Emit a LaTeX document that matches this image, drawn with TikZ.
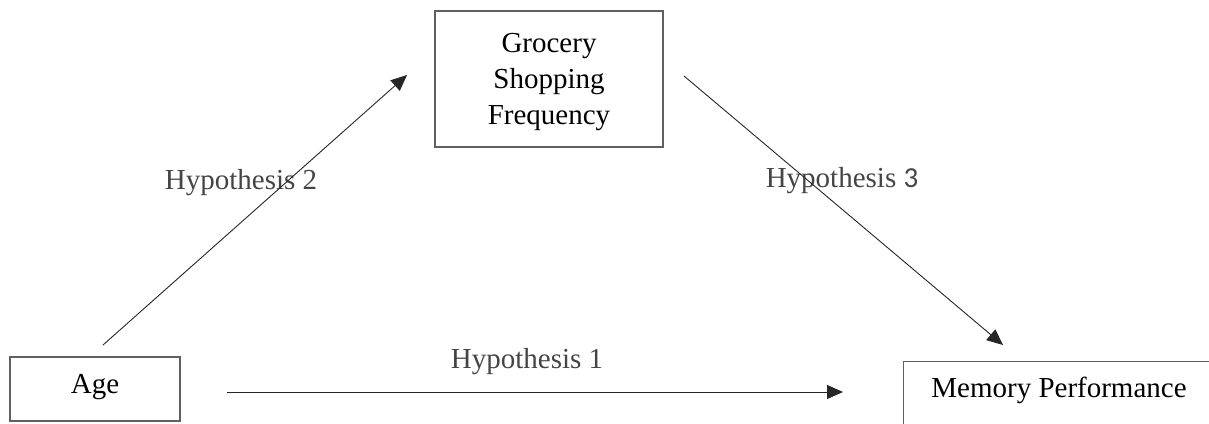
\documentclass[tikz,border=0pt]{standalone}
\usepackage{fontspec}
\setmainfont{Liberation Serif}
\newfontfamily\calib{Carlito}
\usetikzlibrary{arrows.meta}
\definecolor{labgray}{HTML}{454545}
\definecolor{boxgray}{HTML}{606060}
\begin{document}
\begin{tikzpicture}[x=1pt,y=-1pt,
  every node/.style={font=\fontsize{29}{36}\selectfont},
  varbox/.style={draw=boxgray,line width=1.3pt,inner sep=0pt},
  hyplabel/.style={text=labgray,inner sep=0pt},
  path/.style={draw=black!85,line width=0.9pt,-{Triangle[length=16pt,width=14pt]}}]
\clip (0,0) rectangle (1209,423);
\node[varbox,minimum width=170pt,minimum height=64pt] (age) at (95,389) {};
\node (agetext) at (95,387) {Age};
\node[varbox,minimum width=228pt,minimum height=136pt] (gsf) at (549,79) {};
\node[align=center] (gsftext) at (549,82) {Grocery\\Shopping\\Frequency};
\node[varbox,anchor=north west,minimum width=330pt,minimum height=80pt] (mem) at (903,361) {};
\node (memtext) at (1059,390) {Memory Performance};
\node[hyplabel] (h1) at (527,362) {Hypothesis 1};
\node[hyplabel] (h2) at (241,183) {Hypothesis 2};
\node[hyplabel] (h3) at (842,181) {Hypothesis {\calib 3}};
\coordinate (a1) at (103,345);
\coordinate (g1) at (407,75);
\coordinate (g2) at (684,76);
\coordinate (m1) at (1003,345);
\coordinate (a2) at (227,392);
\coordinate (m2) at (843,392);
\draw[path] (a1) -- (g1);
\draw[path] (g2) -- (m1);
\draw[path] (a2) -- (m2);
\end{tikzpicture}
\end{document}
